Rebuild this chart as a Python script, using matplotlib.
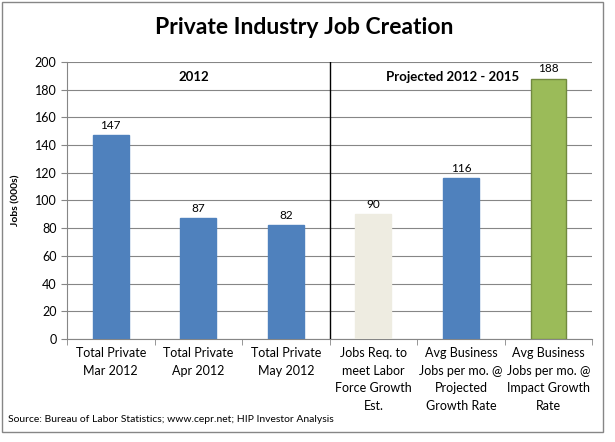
import matplotlib
matplotlib.use('Agg')
import matplotlib.pyplot as plt
from matplotlib.patches import Rectangle

plt.rcParams['font.family'] = ['Lato', 'DejaVu Sans']

categories = [
    "Total Private\nMar 2012",
    "Total Private\nApr 2012",
    "Total Private\nMay 2012",
    "Jobs Req. to\nmeet Labor\nForce Growth\nEst.",
    "Avg Business\nJobs per mo. @\nProjected\nGrowth Rate",
    "Avg Business\nJobs per mo. @\nImpact Growth\nRate",
]
jobs = [147, 87, 82, 90, 116, 188]
bar_colors = ['#4F81BD', '#4F81BD', '#4F81BD', '#EEECE1', '#4F81BD', '#9BBB59']
edge_colors = ['#4F81BD', '#4F81BD', '#4F81BD', '#EEECE1', '#4F81BD', '#71893F']

fig = plt.figure(figsize=(6.15, 4.42), dpi=100)
ax = fig.add_axes([0.109, 0.233, 0.854, 0.627])

x = list(range(len(jobs)))
ax.bar(x, jobs, width=0.41, color=bar_colors, edgecolor=edge_colors, linewidth=1, zorder=3)
for xi, v in zip(x, jobs):
    ax.text(xi, v + 3, str(v), ha='center', va='bottom', fontsize=8.5, zorder=4)

ax.set_xlim(-0.5, len(jobs) - 0.5)
ax.set_ylim(0, 200)
ax.set_yticks(range(0, 201, 20))
ax.tick_params(axis='y', labelsize=9, length=4, direction='out', color='#868686')
ax.yaxis.grid(True, color='#868686', linewidth=0.8, zorder=0)

ax.set_xticks(x)
ax.set_xticklabels(categories, fontsize=9, linespacing=1.55)
ax.tick_params(axis='x', length=0, pad=6)
ax.set_xticks([i - 0.5 for i in range(len(jobs) + 1)], minor=True)
ax.tick_params(axis='x', which='minor', length=4, direction='out', color='#868686')

for side in ['top', 'right']:
    ax.spines[side].set_visible(False)
ax.spines['left'].set_color('#868686')
ax.spines['bottom'].set_color('#868686')

ax.axvline(2.5, color='black', linewidth=1, zorder=4)
ax.text(0.95, 189, "2012", ha='center', va='center', fontsize=9.5, fontweight='bold', zorder=5)
ax.text(3.9, 189, "Projected 2012 - 2015", ha='center', va='center', fontsize=9.5,
        fontweight='bold', zorder=5)

ax.set_ylabel("Jobs (000s)", fontsize=7.5, fontweight='bold', labelpad=10)

fig.text(0.494, 0.938, "Private Industry Job Creation", ha='center', va='center',
         fontsize=16.5, fontweight='bold')
fig.text(0.013, 0.05, "Source: Bureau of Labor Statistics; www.cepr.net; HIP Investor Analysis",
         ha='left', va='center', fontsize=7.5)

fig.patches.append(Rectangle((0.004, 0.023), 0.977, 0.972, transform=fig.transFigure,
                             fill=False, edgecolor='#868686', linewidth=1))

fig.savefig('out.png', dpi=100, facecolor='white')
